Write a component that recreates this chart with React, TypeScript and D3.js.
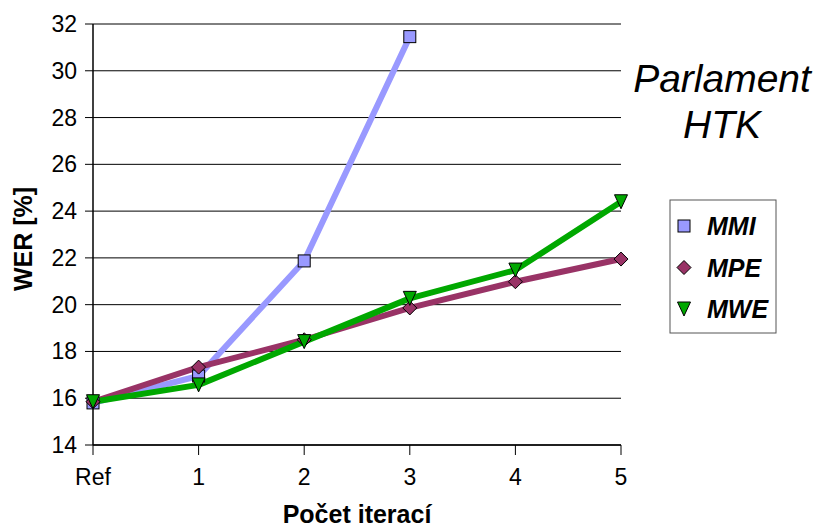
import React from "react";
import * as d3 from "d3";

const categories = ["Ref", "1", "2", "3", "4", "5"];
const mmi = [15.8, 16.95, 21.87, 31.46];
const mpe = [15.85, 17.33, 18.5, 19.86, 20.98, 21.95];
const mwe = [15.85, 16.57, 18.42, 20.27, 21.48, 24.4];
const yTicks = [14, 16, 18, 20, 22, 24, 26, 28, 30, 32];
const seriesNames = ["MMI", "MPE", "MWE"];

const W = 814;
const H = 527;
const left = 93;
const right = 621;
const top = 24;
const bottom = 445;

const x = d3.scalePoint<string>().domain(categories).range([left, right]);
const y = d3.scaleLinear().domain([14, 32]).range([bottom, top]);

const colors = ["#9999FF", "#993366", "#00A800"];
const shapes = ["square", "diamond", "triangle"];

function marker(shape: string, cx: number, cy: number, fill: string, key: string) {
  if (shape === "square") {
    return <rect key={key} x={cx - 6} y={cy - 6} width={12} height={12} fill={fill} stroke="#000" strokeWidth={1} />;
  }
  if (shape === "diamond") {
    const r = 7;
    return (
      <path key={key} d={`M${cx},${cy - r}L${cx + r},${cy}L${cx},${cy + r}L${cx - r},${cy}Z`} fill={fill} stroke="#000" strokeWidth={1} />
    );
  }
  const h = 7;
  return (
    <path key={key} d={`M${cx - 6.5},${cy - h}L${cx + 6.5},${cy - h}L${cx},${cy + h}Z`} fill={fill} stroke="#000" strokeWidth={1} />
  );
}

export default function App() {
  const data = [mmi, mpe, mwe];
  const line = d3
    .line<number>()
    .x((_, i) => x(categories[i]) as number)
    .y((v) => y(v));
  const font = "'Liberation Sans', Arial, sans-serif";

  return (
    <svg width={W} height={H} style={{ position: "absolute", left: 0, top: 0, fontFamily: font }}>
      <rect width={W} height={H} fill="#fff" />
      {/* horizontal gridlines and y ticks */}
      {yTicks.map((t) => (
        <g key={t}>
          <line x1={85} x2={right} y1={y(t)} y2={y(t)} stroke="#000" strokeWidth={1} />
          <text x={77} y={y(t) + 8} fontSize={23} textAnchor="end" fill="#000">
            {t}
          </text>
        </g>
      ))}
      {/* axes */}
      <line x1={left} x2={left} y1={top} y2={bottom} stroke="#000" strokeWidth={1.5} />
      <line x1={left} x2={right} y1={bottom} y2={bottom} stroke="#000" strokeWidth={1.5} />
      {categories.map((c) => (
        <g key={c}>
          <line x1={x(c)} x2={x(c)} y1={bottom} y2={bottom + 10} stroke="#000" strokeWidth={1} />
          <text x={x(c)} y={485} fontSize={23} textAnchor="middle" fill="#000">
            {c}
          </text>
        </g>
      ))}
      {/* series lines */}
      {data.map((d, i) => (
        <path key={i} d={line(d) || ""} fill="none" stroke={colors[i]} strokeWidth={6} strokeLinejoin="round" />
      ))}
      {/* markers */}
      {data.map((d, i) =>
        d.map((v, j) => marker(shapes[i], x(categories[j]) as number, y(v), colors[i], `${i}-${j}`))
      )}
      {/* axis titles */}
      <text x={357} y={523} fontSize={25} fontWeight="bold" textAnchor="middle" fill="#000">
        Počet iterací
      </text>
      <text
        transform={`translate(32,239) rotate(-90)`}
        fontSize={25}
        fontWeight="bold"
        textAnchor="middle"
        fill="#000"
      >
        WER [%]
      </text>
      {/* chart title */}
      <text x={722} y={92} fontSize={39} fontStyle="italic" textAnchor="middle" fill="#000">
        Parlament
      </text>
      <text x={722} y={138} fontSize={39} fontStyle="italic" textAnchor="middle" fill="#000">
        HTK
      </text>
      {/* legend */}
      <rect x={670} y={200} width={106} height={133} fill="#fff" stroke="#555" strokeWidth={1} />
      {seriesNames.map((n, i) => {
        const cy = 226 + i * 41.5;
        return (
          <g key={n}>
            {marker(shapes[i], 684, cy, colors[i], `lg-${n}`)}
            <text x={707} y={cy + 9} fontSize={25} fontWeight="bold" fontStyle="italic" fill="#000">
              {n}
            </text>
          </g>
        );
      })}
    </svg>
  );
}
